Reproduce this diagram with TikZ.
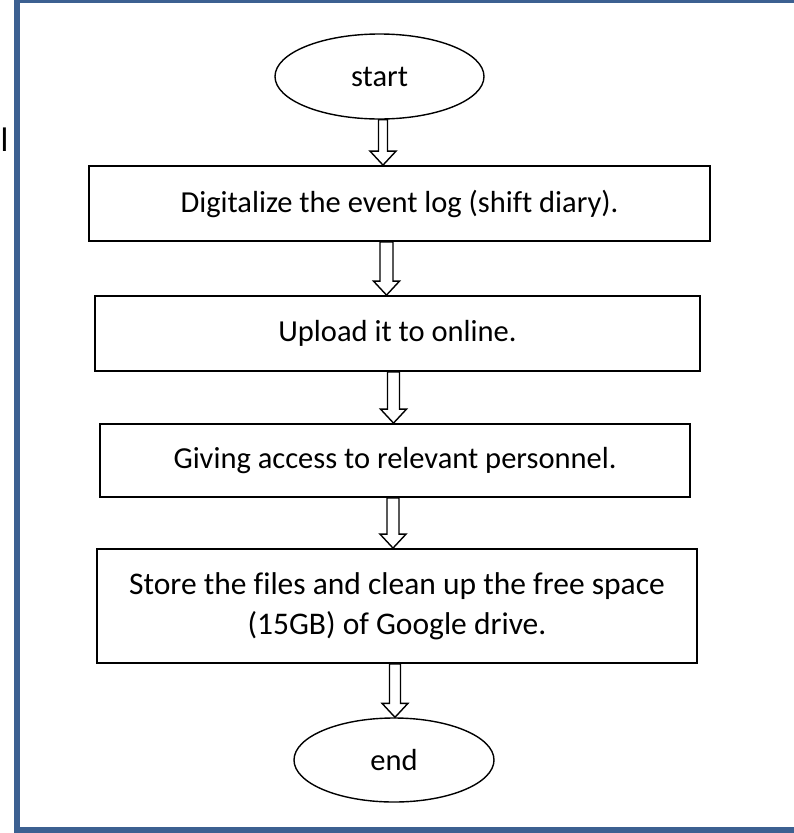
\documentclass[tikz,border=0pt]{standalone}
\usepackage{fontspec}
\setmainfont[Ligatures=CommonOff]{Carlito}
\usetikzlibrary{shapes.geometric,calc}
\definecolor{framecol}{RGB}{60,96,145}
\tikzset{
  procbox/.style={draw, line width=1.8pt, rectangle, align=center, inner sep=0pt},
  term/.style={draw, line width=1.4pt, ellipse, inner sep=0pt},
  harr/.style={draw, line width=1.4pt, fill=white, line join=miter},
  txt/.style={font=\fontsize{30.5}{38}\selectfont},
  bigtxt/.style={font=\fontsize{31.5}{40}\selectfont}
}
\newcommand{\harrow}[4][0]{%
  \path[harr] let \p1=($(#3.south)+(#1,0)$), \p2=(#4.north) in
    (\x1-#2pt,\y1) -- (\x1-#2pt,\y2+14pt) -- (\x1-13pt,\y2+14pt) -- (\x1,\y2)
    -- (\x1+13pt,\y2+14pt) -- (\x1+#2pt,\y2+14pt) -- (\x1+#2pt,\y1) -- cycle;}
\begin{document}
\begin{tikzpicture}[x=1pt,y=-1pt]
\useasboundingbox (0,0) rectangle (794,833);
\begin{scope}
  \clip (0,0) rectangle (794,833);
  \draw[line width=6pt, framecol] (17,0) rectangle (830,830);
\end{scope}
\node[font=\fontsize{34}{40}\selectfont, anchor=center] (stray) at (4.5,140) {l};
\node[term, txt, minimum width=209, minimum height=85] (start) at (379.5,76.5) {start};
\node[procbox, txt, minimum width=621, minimum height=75] (b1) at (399.5,203.5) {Digitalize the event log (shift diary).};
\node[procbox, txt, minimum width=605, minimum height=75] (b2) at (397.5,333.5) {Upload it to online.};
\node[procbox, txt, minimum width=590, minimum height=73] (b3) at (395,460.5) {Giving access to relevant personnel.};
\node[procbox, bigtxt, minimum width=600, minimum height=114] (b4) at (397,606) {Store the files and clean up the free space\\(15GB) of Google drive.};
\node[term, txt, minimum width=200, minimum height=84] (end) at (394,760) {end};
\harrow[3.5]{4.5}{start}{b1}
\harrow[-13]{6.5}{b1}{b2}
\harrow[-4]{6}{b2}{b3}
\harrow[-2]{6}{b3}{b4}
\harrow[-2]{5.5}{b4}{end}
\end{tikzpicture}
\end{document}
